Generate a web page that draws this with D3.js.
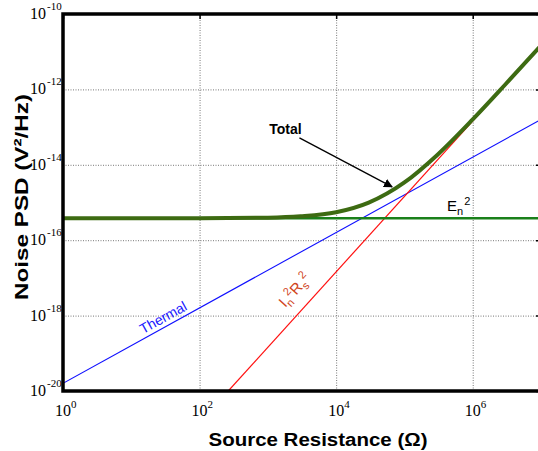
<!DOCTYPE html>
<html>
<head>
<meta charset="utf-8">
<script src="https://cdn.jsdelivr.net/npm/d3@7"></script>
<style>
  body { margin: 0; background: #fff; }
  svg { display: block; }
  .tick-label { font-family: "Liberation Serif", "Times New Roman", serif; fill: #000; }
  .title { font-family: "Liberation Sans", Arial, sans-serif; font-weight: bold; fill: #000; }
</style>
</head>
<body>
<svg id="chart" width="538" height="451"></svg>
<script>
// axis ticks
var xTicks = [1e0, 1e2, 1e4, 1e6];
var xExps = ["0", "2", "4", "6"];
var yTicks = [1e-10, 1e-12, 1e-14, 1e-16, 1e-18, 1e-20];
var yExps = ["-10", "-12", "-14", "-16", "-18", "-20"];

// series
var thermalR = [1, 1e7];
var thermalV = [1.6e-20, 1.6e-13];
var enR = [1, 1e7];
var enV = [3.8e-16, 3.8e-16];
var inRsR = [263, 1e7];
var inRsV = [1e-20, 1.45e-11];
var totalR = [1, 100, 1000, 3000, 1e4, 3e4, 1e5, 3e5, 1e6, 3e6, 1e7];
var totalV = [3.8e-16, 3.82e-16, 3.96e-16, 4.3e-16, 5.5e-16, 9.9e-16, 3.4e-15, 1.8e-14, 1.6e-13, 1.35e-12, 1.47e-11];

var margin = {top: 14, right: 541, bottom: 391, left: 63};

var svg = d3.select("#chart");

var x = d3.scaleLog().domain([1, 1e7]).range([margin.left, margin.right]);
var y = d3.scaleLog().domain([1e-20, 1e-10]).range([margin.bottom, margin.top]);

svg.append("defs").append("clipPath").attr("id", "plotclip")
  .append("rect")
    .attr("x", margin.left).attr("y", margin.top)
    .attr("width", margin.right - margin.left)
    .attr("height", margin.bottom - margin.top);

svg.select("defs").append("marker")
    .attr("id", "arrowhead")
    .attr("viewBox", "0 0 10 10")
    .attr("refX", 9).attr("refY", 5)
    .attr("markerWidth", 9).attr("markerHeight", 9)
    .attr("markerUnits", "userSpaceOnUse")
    .attr("orient", "auto")
  .append("path")
    .attr("d", "M0,0L10,5L0,10Z")
    .attr("fill", "#000");

// grid lines
var grid = svg.append("g");
grid.append("g")
    .attr("transform", "translate(0," + margin.bottom + ")")
    .call(d3.axisBottom(x).tickValues(xTicks).tickSize(-(margin.bottom - margin.top)).tickFormat(""))
    .call(g => g.select(".domain").remove())
    .selectAll("line")
      .attr("stroke", "#777")
      .attr("stroke-dasharray", "1,1.5");
grid.append("g")
    .attr("transform", "translate(" + margin.left + ",0)")
    .call(d3.axisLeft(y).tickValues(yTicks).tickSize(-(margin.right - margin.left)).tickFormat(""))
    .call(g => g.select(".domain").remove())
    .selectAll("line")
      .attr("stroke", "#777")
      .attr("stroke-dasharray", "1,1.5");

// inward tick marks on top and right
svg.append("g")
    .attr("transform", "translate(0," + margin.top + ")")
    .call(d3.axisTop(x).tickValues(xTicks).tickSize(-5).tickFormat(""))
    .call(g => g.select(".domain").remove())
    .selectAll("line").attr("stroke", "#000").attr("stroke-width", 1.5);
svg.append("g")
    .attr("transform", "translate(" + margin.right + ",0)")
    .call(d3.axisRight(y).tickValues(yTicks).tickSize(-5).tickFormat(""))
    .call(g => g.select(".domain").remove())
    .selectAll("line").attr("stroke", "#000").attr("stroke-width", 1.5);

var line = d3.line()
  .x(d => x(d[0]))
  .y(d => y(d[1]));

var plot = svg.append("g").attr("clip-path", "url(#plotclip)");

plot.append("path")
    .datum(d3.zip(thermalR, thermalV))
    .attr("fill", "none")
    .attr("stroke", "#1010ff")
    .attr("stroke-width", 1.1)
    .attr("d", line);

plot.append("path")
    .datum(d3.zip(inRsR, inRsV))
    .attr("fill", "none")
    .attr("stroke", "#ff1010")
    .attr("stroke-width", 1.2)
    .attr("d", line);

plot.append("path")
    .datum(d3.zip(enR, enV))
    .attr("fill", "none")
    .attr("stroke", "#1a801a")
    .attr("stroke-width", 2.5)
    .attr("d", line);

plot.append("path")
    .datum(d3.zip(totalR, totalV))
    .attr("fill", "none")
    .attr("stroke", "#3d6b12")
    .attr("stroke-width", 4)
    .attr("stroke-linejoin", "round")
    .attr("d", d3.line().x(d => x(d[0])).y(d => y(d[1])).curve(d3.curveMonotoneX));

// frame
svg.append("rect")
    .attr("x", margin.left).attr("y", margin.top)
    .attr("width", margin.right - margin.left)
    .attr("height", margin.bottom - margin.top)
    .attr("fill", "none")
    .attr("stroke", "#000")
    .attr("stroke-width", 3.5);

// tick labels: 10 with superscript exponent
var xl = svg.append("g");
xTicks.forEach(function(t, i) {
  var txt = xl.append("text")
      .attr("class", "tick-label")
      .attr("x", x(t) - 8)
      .attr("y", 416)
      .attr("font-size", 16);
  txt.append("tspan").text("10");
  txt.append("tspan").attr("dy", -8).attr("font-size", 11).text(xExps[i]);
});

var yl = svg.append("g");
yTicks.forEach(function(t, i) {
  var txt = yl.append("text")
      .attr("class", "tick-label")
      .attr("x", 30)
      .attr("y", y(t) + 5)
      .attr("font-size", 16);
  txt.append("tspan").text("10");
  txt.append("tspan").attr("dx", 1).attr("dy", -9).attr("font-size", 11).text(yExps[i]);
});

// axis titles
svg.append("text")
    .attr("class", "title")
    .attr("x", 318)
    .attr("y", 446)
    .attr("text-anchor", "middle")
    .attr("font-size", 18)
    .attr("textLength", 219)
    .attr("lengthAdjust", "spacingAndGlyphs")
    .text("Source Resistance (\u03A9)");

svg.append("text")
    .attr("class", "title")
    .attr("transform", "translate(28,197) rotate(-90)")
    .attr("text-anchor", "middle")
    .attr("font-size", 19)
    .attr("textLength", 206)
    .attr("lengthAdjust", "spacingAndGlyphs")
    .text("Noise PSD (V\u00B2/Hz)");

// annotations
svg.append("text")
    .attr("class", "title")
    .attr("x", x(1050))
    .attr("y", y(6.6e-14))
    .attr("font-size", 14)
    .text("Total");

svg.append("line")
    .attr("x1", x(2.9e3)).attr("y1", y(5.2e-14))
    .attr("x2", x(6.6e4)).attr("y2", y(2.6e-15))
    .attr("stroke", "#000")
    .attr("stroke-width", 1.3)
    .attr("marker-end", "url(#arrowhead)");

var en = svg.append("text")
    .attr("x", x(4.2e5))
    .attr("y", y(5.9e-16))
    .attr("font-family", "Liberation Sans, Arial, sans-serif")
    .attr("font-size", 15)
    .attr("fill", "#000");
en.append("tspan").text("E");
en.append("tspan").attr("dy", 4).attr("font-size", 11).text("n");
en.append("tspan").attr("dy", -10).attr("dx", 1).attr("font-size", 11).text("2");

svg.append("text")
    .attr("transform", "translate(" + x(14.9) + "," + y(3.2e-19) + ") rotate(-29)")
    .attr("font-family", "Liberation Sans, Arial, sans-serif")
    .attr("font-size", 14)
    .attr("fill", "#2020ff")
    .text("Thermal");

var ir = svg.append("text")
    .attr("transform", "translate(" + x(1800) + "," + y(1.6e-18) + ") rotate(-48)")
    .attr("font-family", "Liberation Sans, Arial, sans-serif")
    .attr("font-size", 15)
    .attr("fill", "#d0441c");
ir.append("tspan").text("I");
ir.append("tspan").attr("dy", 4).attr("font-size", 11).text("n");
ir.append("tspan").attr("dy", -10).attr("font-size", 11).text("2");
ir.append("tspan").attr("dy", 6).text("R");
ir.append("tspan").attr("dy", 4).attr("font-size", 11).text("s");
ir.append("tspan").attr("dy", -10).attr("font-size", 11).text("2");
</script>
</body>
</html>
